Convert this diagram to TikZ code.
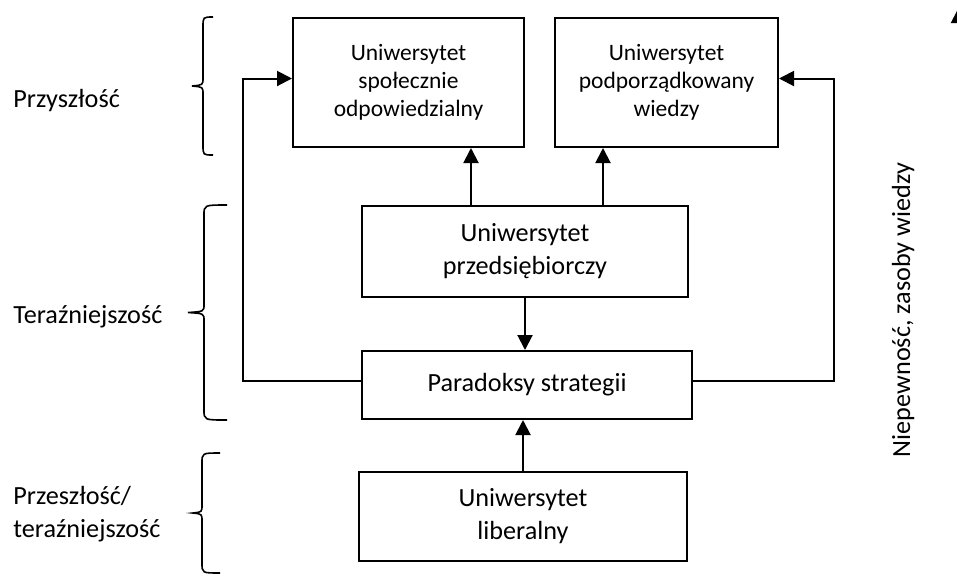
\documentclass[tikz,border=0pt]{standalone}
\usepackage{fontspec}
\setmainfont{Carlito}
\usetikzlibrary{arrows.meta,positioning,calc}
\tikzset{
  >={Triangle[length=7.5pt,width=7.5pt]},
  unibox/.style 2 args={draw,line width=1pt,align=center,inner sep=2pt,
    minimum width=#1,minimum height=#2,font=\fontsize{13.1}{16.5}\selectfont},
  smallbox/.style={font=\fontsize{11.75}{14}\selectfont},
  flow/.style={->,line width=1pt},
  era/.style={anchor=west,inner sep=0pt,align=left,font=\fontsize{13.1}{16.5}\selectfont},
  % curly bracket: half height / end offset / tip depth
  pics/timebrace/.style args={#1/#2/#3}{code={
    \draw[line width=0.8pt] (#2,-#1) .. controls (0,-#1) .. (0,-#1+10) -- (0,-8)
      .. controls (0,-1) .. (-#3,0) .. controls (0,1) .. (0,8)
      -- (0,#1-10) .. controls (0,#1) .. (#2,#1);
  }},
}
\begin{document}
\begin{tikzpicture}[x=0.5pt,y=-0.5pt]
  \useasboundingbox (0,0) rectangle (957,585);

  % boxes
  \node[unibox={115.5pt}{64.5pt},smallbox] (resp) at (408.5,82.5) {Uniwersytet\\społecznie\\odpowiedzialny};
  \node[unibox={111.5pt}{64.5pt},smallbox] (know) at (666.5,82.5) {Uniwersytet\\podporządkowany\\wiedzy};
  \node[unibox={163pt}{45.5pt}] (entr) at (525,251.5) {Uniwersytet\\przedsiębiorczy};
  \node[unibox={165pt}{34pt}] (para) at (527,385) {Paradoksy strategii};
  \node[unibox={164pt}{44.5pt}] (lib) at (523,516.5) {Uniwersytet\\liberalny};

  % arrows
  \draw[flow] ([xshift=-27pt]entr.north) -- ([xshift=-27pt]entr.north |- resp.south);
  \draw[flow] ([xshift=39pt]entr.north) -- ([xshift=39pt]entr.north |- know.south);
  \draw[flow] (entr.south) -- (entr.south |- para.north);
  \draw[flow] (lib.north) -- (lib.north |- para.south);
  \draw[flow] ([yshift=2pt]para.west) -- ++(-118,0) |- ([yshift=2pt]resp.west);
  \draw[flow] ([yshift=2pt]para.east) -- ++(141,0) |- ([yshift=2pt]know.east);

  % time axis
  \pic at (203,86) {timebrace=69/10/11};
  \pic at (204,312.5) {timebrace=107.5/23/16};
  \pic at (202,513) {timebrace=60/18/9};
  \node[era] (future) at (13,101) {Przyszłość};
  \node[era] (present) at (13,317) {Teraźniejszość};
  \node[era] (past) at (13,514) {Przeszłość/\\teraźniejszość};

  % uncertainty axis
  \node[rotate=90,inner sep=0pt,font=\fontsize{13.1}{16.5}\selectfont] (unc) at (903,310) {Niepewność, zasoby wiedzy};
  \coordinate (axbot) at (958.5,580);
  \coordinate (axtop) at (958.5,8);
  \begin{scope}
    \clip (0,0) rectangle (957,585);
    \draw[flow] (axbot) -- (axtop);
  \end{scope}
\end{tikzpicture}
\end{document}
